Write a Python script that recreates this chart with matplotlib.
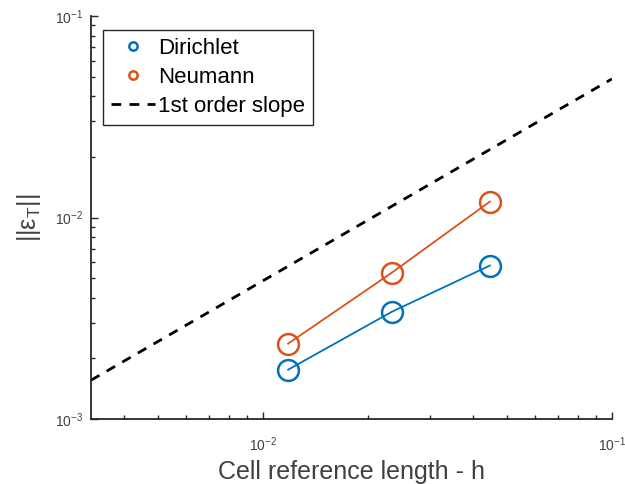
import numpy as np
import matplotlib
matplotlib.use("Agg")
import matplotlib.pyplot as plt
from matplotlib.ticker import LogLocator, NullFormatter

# cell reference length h and error norms
h = [0.0118, 0.0234, 0.0447]
err_dirichlet = [0.00176, 0.00341, 0.00578]
err_neumann = [0.00237, 0.00533, 0.0120]

# reference 1st order slope
slope_h = [0.00321, 0.1]
slope_err = [0.00156, 0.0487]

blue = '#0072BD'
orange = '#D95319'
axcol = '#262626'

plt.rcParams['font.family'] = ['Liberation Sans', 'DejaVu Sans']
plt.rcParams['mathtext.fontset'] = 'custom'
plt.rcParams['mathtext.rm'] = 'Liberation Sans'
plt.rcParams['mathtext.it'] = 'Liberation Sans:italic'

fig = plt.figure(figsize=(6.25, 4.84), dpi=100)
ax = fig.add_axes([0.1456, 0.134, 0.8334, 0.833])

ax.loglog(h, err_dirichlet, '-', color=blue, lw=1.3)
ax.loglog(h, err_neumann, '-', color=orange, lw=1.3)
ax.loglog(h, err_dirichlet, 'o', color=blue, mfc='none', ms=15, mew=1.8,
          label='Dirichlet')
ax.loglog(h, err_neumann, 'o', color=orange, mfc='none', ms=15, mew=1.8,
          label='Neumann')
ax.loglog(slope_h, slope_err, '--', color='black', lw=2, dashes=(3.5, 3),
          label='1st order slope')

ax.set_xlim(0.00321, 0.1)
ax.set_ylim(1e-3, 1e-1)

for s in ['top', 'right']:
    ax.spines[s].set_visible(False)
for s in ['left', 'bottom']:
    ax.spines[s].set_color(axcol)
    ax.spines[s].set_linewidth(1.3)

ax.xaxis.set_major_locator(LogLocator(base=10, numticks=10))
ax.yaxis.set_major_locator(LogLocator(base=10, numticks=10))
ax.xaxis.set_minor_locator(LogLocator(base=10, subs=np.arange(2, 10), numticks=20))
ax.yaxis.set_minor_locator(LogLocator(base=10, subs=np.arange(2, 10), numticks=20))
ax.xaxis.set_minor_formatter(NullFormatter())
ax.yaxis.set_minor_formatter(NullFormatter())
ax.tick_params(which='both', direction='in', colors=axcol, labelcolor='#404040')
ax.tick_params(which='major', length=5, width=1, labelsize=10)
ax.tick_params(which='minor', length=3, width=1)
ax.tick_params(axis='x', which='major', pad=12)
ax.tick_params(axis='y', which='major', pad=6)

ax.set_xlabel('Cell reference length - h', fontsize=18, color='#404040', labelpad=4)
ax.set_ylabel('||ε$_{\\mathregular{T}}$||', fontsize=18, color='#404040', labelpad=8)

leg = ax.legend(loc='upper left', bbox_to_anchor=(0.023, 0.965), borderaxespad=0,
                fontsize=16, markerscale=0.4, handlelength=2.0, handletextpad=0.12,
                labelspacing=0.36, borderpad=0.36, fancybox=False,
                framealpha=1, edgecolor=axcol)
leg.get_frame().set_linewidth(1.0)

fig.savefig('out.png', dpi=100)
